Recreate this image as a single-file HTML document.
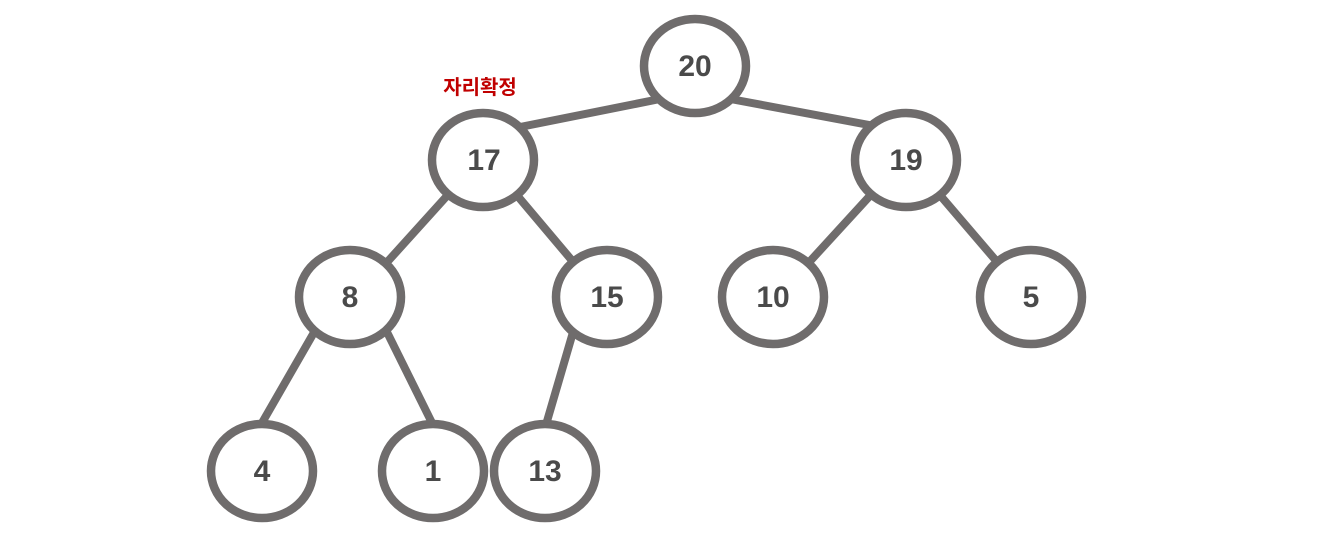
<!DOCTYPE html>
<html><head><meta charset="utf-8"><style>html,body{margin:0;padding:0;background:#fff;}</style></head>
<body>
<svg width="1337" height="553" xmlns="http://www.w3.org/2000/svg">
<g stroke="#6f6c6c" stroke-width="8" fill="none">
<line x1="665" y1="98" x2="510" y2="129"/>
<line x1="725" y1="98" x2="880" y2="127"/>
<line x1="455" y1="187" x2="380" y2="270"/>
<line x1="510" y1="187" x2="580" y2="270"/>
<line x1="878" y1="187" x2="802" y2="270"/>
<line x1="933" y1="187" x2="1004" y2="270"/>
<line x1="320" y1="322" x2="255" y2="435"/>
<line x1="382" y1="322" x2="438" y2="435"/>
<line x1="576" y1="322" x2="543" y2="435"/>
</g>
<g stroke="#6f6c6c" stroke-width="8.5" fill="#fff">
<ellipse cx="695" cy="66" rx="51" ry="47"/>
<ellipse cx="483" cy="160" rx="51" ry="47"/>
<ellipse cx="906" cy="160" rx="51" ry="47"/>
<ellipse cx="350" cy="297" rx="51" ry="47"/>
<ellipse cx="607" cy="297" rx="51" ry="47"/>
<ellipse cx="773" cy="297" rx="51" ry="47"/>
<ellipse cx="1031" cy="297" rx="51" ry="47"/>
<ellipse cx="262" cy="471" rx="51" ry="47"/>
<ellipse cx="433" cy="471" rx="51" ry="47"/>
<ellipse cx="545" cy="471" rx="51" ry="47"/>
</g>
<g font-family="Liberation Sans Narrow, Liberation Sans, sans-serif" font-size="30" font-weight="bold" fill="#4a4a4a" text-anchor="middle">
<text x="695" y="76">20</text>
<text x="484" y="170">17</text>
<text x="906" y="170">19</text>
<text x="350" y="307">8</text>
<text x="607" y="307">15</text>
<text x="773" y="307">10</text>
<text x="1031" y="307">5</text>
<text x="262" y="481">4</text>
<text x="433" y="481">1</text>
<text x="545" y="481">13</text>
</g>
<text x="480" y="94" text-anchor="middle" font-family="Liberation Sans, 'Noto Sans CJK KR', sans-serif" font-size="20" font-weight="bold" fill="#c00000">자리확정</text>
</svg>
</body></html>
